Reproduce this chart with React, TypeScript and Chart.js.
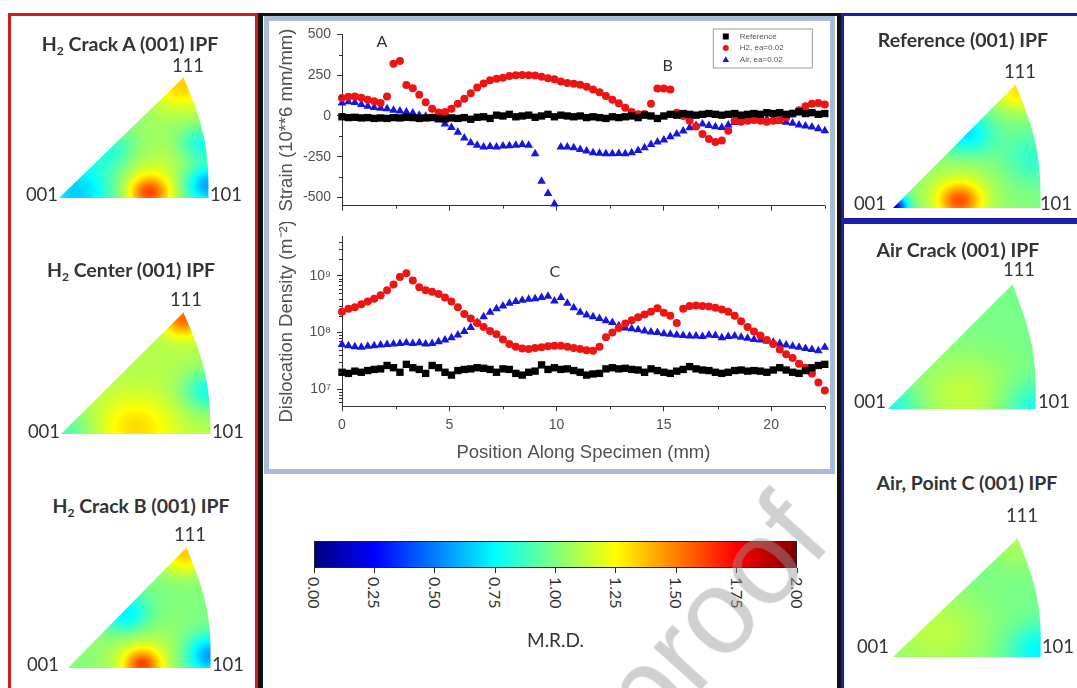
import React, { useEffect, useRef } from 'react';
import { Chart, registerables } from 'chart.js';

Chart.register(...registerables);

const AXIS_FONT = "'Liberation Sans', Arial, sans-serif";
const LABEL_FONT = "Lato, 'Open Sans', sans-serif";

// ---------- data ----------
const positionsMm = [
  0, 0.3, 0.6, 0.9, 1.2, 1.5, 1.8, 2.1, 2.4, 2.7,
  3.0, 3.3, 3.6, 3.9, 4.2, 4.5, 4.8, 5.1, 5.4, 5.7,
  6.0, 6.3, 6.6, 6.9, 7.2, 7.5, 7.8, 8.1, 8.4, 8.7,
  9.0, 9.3, 9.6, 9.9, 10.2, 10.5, 10.8, 11.1, 11.4, 11.7,
  12.0, 12.3, 12.6, 12.9, 13.2, 13.5, 13.8, 14.1, 14.4, 14.7,
  15.0, 15.3, 15.6, 15.9, 16.2, 16.5, 16.8, 17.1, 17.4, 17.7,
  18.0, 18.3, 18.6, 18.9, 19.2, 19.5, 19.8, 20.1, 20.4, 20.7,
  21.0, 21.3, 21.6, 21.9, 22.2, 22.5,
];

const referenceStrain = [
  -5, -10, -8, -12, -10, -15, -12, -15, -10, -12,
  -8, -10, -15, -12, -10, -15, -18, -12, -15, -10,
  -20, -8, -5, -15, 5, 0, 10, -5, 0, 5,
  -8, 0, 10, -5, 5, 0, -5, 0, -10, -5,
  -10, -15, -5, -10, -5, 0, -10, 5, 0, -15,
  0, 10, 5, 15, 10, 5, 10, 15, 10, 5,
  10, 15, 5, 10, 15, 10, 20, 15, 20, 10,
  15, 25, 15, 20, 10, 15,
];

const h2Strain = [
  110, 118, 120, 112, 100, 90, 80, 120, 320, 338,
  190, 170, 130, 85, 45, 22, 25, 45, 75, 105,
  140, 175, 200, 220, 228, 235, 245, 250, 252, 250,
  248, 240, 232, 225, 212, 202, 198, 192, 180, 162,
  145, 122, 100, 78, 50, 25, 10, 12, 75, 168,
  168, 162, 20, 0, -30, -65, -110, -142, -160, -150,
  -90, -30, -35, -30, -25, -30, -35, -30, -25, -10,
  15, 35, 60, 75, 80, 70,
];

const airStrain = [
  80, 88, 82, 70, 60, 52, 48, 45, 35, 30,
  25, 18, 5, -2, -12, -25, -50, -70, -100, -135,
  -165, -180, -190, -188, -190, -185, -182, -180, -175, -180,
  -232, -400, -475, -540, -190, -190, -195, -205, -215, -225,
  -228, -232, -232, -230, -232, -225, -212, -195, -175, -160,
  -148, -128, -110, -92, -72, -58, -50, -58, -66, -70,
  -55, -40, -25, -15, -10, -12, -18, -25, -32, -38,
  -45, -55, -62, -68, -78, -90,
];

// dislocation density, stored as log10 of m^-2
const referenceDensityLog10 = [
  7.3, 7.28, 7.32, 7.3, 7.33, 7.35, 7.36, 7.42, 7.38, 7.3,
  7.44, 7.38, 7.35, 7.28, 7.42, 7.38, 7.3, 7.25, 7.33, 7.35,
  7.36, 7.38, 7.37, 7.35, 7.3, 7.36, 7.35, 7.28, 7.25, 7.3,
  7.32, 7.43, 7.35, 7.38, 7.35, 7.36, 7.33, 7.3, 7.25, 7.27,
  7.28, 7.36, 7.38, 7.36, 7.37, 7.35, 7.34, 7.3, 7.36, 7.33,
  7.3, 7.28, 7.32, 7.35, 7.4, 7.36, 7.34, 7.33, 7.3, 7.28,
  7.3, 7.33, 7.34, 7.32, 7.33, 7.32, 7.3, 7.34, 7.38, 7.34,
  7.3, 7.28, 7.33, 7.38, 7.42, 7.44,
];

const h2DensityLog10 = [
  8.37, 8.42, 8.45, 8.5, 8.55, 8.6, 8.66, 8.75, 8.85, 8.98,
  9.05, 8.92, 8.8, 8.75, 8.72, 8.68, 8.62, 8.55, 8.45, 8.33,
  8.25, 8.17, 8.1, 8.03, 7.97, 7.88, 7.8, 7.75, 7.72, 7.71,
  7.73, 7.74, 7.76, 7.77, 7.77, 7.75, 7.73, 7.71, 7.69, 7.68,
  7.75, 7.92, 8.0, 8.08, 8.16, 8.22, 8.27, 8.32, 8.37, 8.43,
  8.35, 8.3, 8.17, 8.42, 8.47, 8.48, 8.47, 8.46, 8.44, 8.41,
  8.37, 8.3, 8.2, 8.1, 8.02, 7.95, 7.87, 7.8, 7.7, 7.62,
  7.55, 7.45, 7.38, 7.28, 7.12, 6.98,
];

const airDensityLog10 = [
  7.79, 7.77, 7.75, 7.74, 7.76, 7.77, 7.78, 7.79, 7.8, 7.81,
  7.82, 7.81, 7.82, 7.8, 7.81, 7.84, 7.87, 7.91, 7.96, 8.02,
  8.09, 8.18, 8.28, 8.36, 8.42, 8.47, 8.52, 8.55, 8.57, 8.59,
  8.6, 8.62, 8.64, 8.56, 8.62, 8.52, 8.44, 8.36, 8.31, 8.28,
  8.25, 8.21, 8.18, 8.12, 8.08, 8.07, 8.05, 8.03, 8.01, 8.0,
  7.98, 7.97, 7.96, 7.95, 7.94, 7.94, 7.93, 7.96, 7.95, 7.91,
  7.93, 7.94, 7.92, 7.9, 7.88, 7.87, 7.85, 7.83, 7.81, 7.78,
  7.76, 7.74, 7.72, 7.7, 7.68, 7.74,
];

const seriesLabels = ['Reference', 'H2, ea=0.02', 'Air, ea=0.02'];

const positionTicks = [0, 5, 10, 15, 20];
const positionMinorTicks = [2.5, 7.5, 12.5, 17.5, 22.5];
const strainTicks = [-500, -250, 0, 250, 500];
const strainMinorTicks = [-375, -125, 125, 375];
const densityTicks = [1e7, 1e8, 1e9];
const densityMinorTicks = [
  6e6, 7e6, 8e6, 9e6,
  2e7, 3e7, 4e7, 5e7, 6e7, 7e7, 8e7, 9e7,
  2e8, 3e8, 4e8, 5e8, 6e8, 7e8, 8e8, 9e8,
  2e9, 3e9, 4e9,
];

const strainLetters = [
  { text: 'A', x: 1.86, y: 453 },
  { text: 'B', x: 15.18, y: 308 },
];
const densityLetters = [{ text: 'C', x: 9.92, y: 1.17e9 }];

const mrdTicks = ['0.00', '0.25', '0.50', '0.75', '1.00', '1.25', '1.50', '1.75', '2.00'];

// ---------- style ----------
const COLORS = ['#000000', '#ee1414', '#1616e0'];
const STYLES = ['rect', 'circle', 'triangle'];
const RADII = [5.2, 4.0, 5.0];

const SUP: Record<string, string> = {
  '0': '⁰', '1': '¹', '2': '²', '3': '³', '4': '⁴', '5': '⁵', '6': '⁶', '7': '⁷', '8': '⁸', '9': '⁹', '-': '⁻',
};
function pow10Label(v: number) {
  const e = Math.round(Math.log10(v));
  return '10' + String(e).split('').map((c) => SUP[c] || c).join('');
}

const minorTicksPlugin = {
  id: 'minorTicks',
  afterDraw(chart: any, _args: any, opts: any) {
    const ctx = chart.ctx;
    const len = opts.length || 3;
    ctx.save();
    ctx.strokeStyle = opts.color || '#333';
    ctx.lineWidth = 1;
    ctx.beginPath();
    Object.keys(opts.values || {}).forEach((id) => {
      const scale = chart.scales[id];
      if (!scale) return;
      (opts.values[id] as number[]).forEach((v) => {
        const p = Math.round(scale.getPixelForValue(v)) + 0.5;
        if (scale.isHorizontal()) {
          ctx.moveTo(p, scale.top);
          ctx.lineTo(p, scale.top + len);
        } else {
          ctx.moveTo(scale.right, p);
          ctx.lineTo(scale.right - len, p);
        }
      });
    });
    ctx.stroke();
    ctx.restore();
  },
};

const lettersPlugin = {
  id: 'letters',
  afterDatasetsDraw(chart: any, _args: any, opts: any) {
    const ctx = chart.ctx;
    ctx.save();
    ctx.fillStyle = '#333';
    ctx.font = `16px ${LABEL_FONT}`;
    ctx.textAlign = 'center';
    ctx.textBaseline = 'middle';
    (opts.items || []).forEach((it: any) => {
      ctx.fillText(it.text, chart.scales.x.getPixelForValue(it.x), chart.scales.y.getPixelForValue(it.y));
    });
    ctx.restore();
  },
};

function drawMarker(ctx: CanvasRenderingContext2D, style: string, x: number, y: number, r: number, color: string) {
  ctx.fillStyle = color;
  ctx.beginPath();
  if (style === 'rect') {
    ctx.rect(x - r, y - r, 2 * r, 2 * r);
  } else if (style === 'circle') {
    ctx.arc(x, y, r, 0, Math.PI * 2);
  } else {
    ctx.moveTo(x, y - r * 1.1);
    ctx.lineTo(x + r * 1.1, y + r * 0.8);
    ctx.lineTo(x - r * 1.1, y + r * 0.8);
    ctx.closePath();
  }
  ctx.fill();
}

const boxLegendPlugin = {
  id: 'boxLegend',
  afterDraw(chart: any, _args: any, opts: any) {
    if (!opts.show) return;
    const ctx = chart.ctx;
    const { right, top } = chart.chartArea;
    const w = 99;
    const h = 39;
    const bx = right - 13 - w;
    const by = top - 6;
    ctx.save();
    ctx.fillStyle = '#fff';
    ctx.fillRect(bx, by, w, h);
    ctx.strokeStyle = '#9a9a9a';
    ctx.lineWidth = 1;
    ctx.strokeRect(bx + 0.5, by + 0.5, w, h);
    ctx.font = `8px ${AXIS_FONT}`;
    ctx.textBaseline = 'middle';
    chart.data.datasets.forEach((ds: any, i: number) => {
      const yy = by + 8 + i * 11.5;
      drawMarker(ctx, STYLES[i], bx + 13, yy, 3, COLORS[i]);
      ctx.fillStyle = '#555';
      ctx.fillText(ds.label, bx + 27, yy);
    });
    ctx.restore();
  },
};

function makeDatasets(values: number[][]) {
  return values.map((vals, i) => ({
    label: seriesLabels[i],
    data: positionsMm.map((x, j) => ({ x, y: vals[j] })),
    pointStyle: STYLES[i],
    pointRadius: RADII[i],
    backgroundColor: COLORS[i],
    borderColor: COLORS[i],
    borderWidth: 0,
    showLine: false,
    clip: false as any,
  }));
}

const tickFont = { family: AXIS_FONT, size: 14 };
const titleFont = { family: AXIS_FONT, size: 18.5 };
const AXIS_TEXT = '#505050';

function StrainChart() {
  const ref = useRef<HTMLCanvasElement>(null);
  useEffect(() => {
    const chart = new Chart(ref.current as HTMLCanvasElement, {
      type: 'scatter',
      data: { datasets: makeDatasets([referenceStrain, h2Strain, airStrain]) as any },
      options: {
        animation: false,
        responsive: false,
        devicePixelRatio: 1,
        layout: { padding: { top: 14.5, right: 5, left: 0, bottom: 0 } },
        plugins: {
          legend: { display: false },
          tooltip: { enabled: false },
          boxLegend: { show: true },
          letters: { items: strainLetters },
          minorTicks: { values: { x: positionMinorTicks, y: strainMinorTicks }, length: 3 },
        } as any,
        scales: {
          x: {
            type: 'linear',
            min: 0,
            max: 22.5,
            afterBuildTicks: (s: any) => { s.ticks = positionTicks.map((v) => ({ value: v })); },
            afterFit: (s: any) => { s.height = 12.5; },
            ticks: { display: false },
            grid: { drawOnChartArea: false, tickLength: 5, color: '#333' },
            border: { color: '#333' },
          },
          y: {
            type: 'linear',
            min: -550,
            max: 500,
            afterBuildTicks: (s: any) => { s.ticks = strainTicks.map((v) => ({ value: v })); },
            afterFit: (s: any) => { s.width = 72; },
            ticks: { color: AXIS_TEXT, font: tickFont, padding: 6, callback: (v: any) => String(v) },
            grid: { drawOnChartArea: false, tickLength: 5, color: '#333' },
            border: { color: '#333' },
            title: { display: true, text: 'Strain (10**6 mm/mm)', color: AXIS_TEXT, font: titleFont, padding: { top: 6, bottom: 0 } },
          },
        },
      },
      plugins: [minorTicksPlugin, lettersPlugin, boxLegendPlugin],
    });
    return () => chart.destroy();
  }, []);
  return <canvas ref={ref} width={560} height={200} style={{ position: 'absolute', left: 270, top: 20 }} />;
}

function DensityChart() {
  const ref = useRef<HTMLCanvasElement>(null);
  useEffect(() => {
    const toValues = (arr: number[]) => arr.map((e) => Math.pow(10, e));
    const chart = new Chart(ref.current as HTMLCanvasElement, {
      type: 'scatter',
      data: {
        datasets: makeDatasets([
          toValues(referenceDensityLog10),
          toValues(h2DensityLog10),
          toValues(airDensityLog10),
        ]) as any,
      },
      options: {
        animation: false,
        responsive: false,
        devicePixelRatio: 1,
        layout: { padding: { top: 11.8, right: 5, left: 0, bottom: 0 } },
        plugins: {
          legend: { display: false },
          tooltip: { enabled: false },
          boxLegend: { show: false },
          letters: { items: densityLetters },
          minorTicks: { values: { x: positionMinorTicks, y: densityMinorTicks }, length: 3 },
        } as any,
        scales: {
          x: {
            type: 'linear',
            min: 0,
            max: 22.5,
            afterBuildTicks: (s: any) => { s.ticks = positionTicks.map((v) => ({ value: v })); },
            afterFit: (s: any) => { s.height = 61.7; },
            ticks: { color: AXIS_TEXT, font: tickFont, padding: 5, maxRotation: 0, callback: (v: any) => String(v) },
            grid: { drawOnChartArea: false, tickLength: 5, color: '#333' },
            border: { color: '#333' },
            title: { display: true, text: 'Position Along Specimen (mm)', color: AXIS_TEXT, font: titleFont, padding: { top: 0, bottom: 4 } },
          },
          y: {
            type: 'logarithmic',
            min: 5e6,
            max: 5e9,
            afterBuildTicks: (s: any) => { s.ticks = densityTicks.map((v) => ({ value: v })); },
            afterFit: (s: any) => { s.width = 72; },
            ticks: { color: AXIS_TEXT, font: tickFont, padding: 6, callback: (v: any) => pow10Label(Number(v)) },
            grid: { drawOnChartArea: false, tickLength: 5, color: '#333' },
            border: { color: '#333' },
            title: { display: true, text: 'Dislocation Density (m⁻²)', color: AXIS_TEXT, font: titleFont, padding: { top: 6, bottom: 0 } },
          },
        },
      },
      plugins: [minorTicksPlugin, lettersPlugin, boxLegendPlugin],
    });
    return () => chart.destroy();
  }, []);
  return <canvas ref={ref} width={560} height={246} style={{ position: 'absolute', left: 270, top: 222 }} />;
}

// ---------- IPF triangles (decorative images) ----------
type Spot = { u: number; v: number; s: number; a: number };
function jet(t: number) {
  const c = (x: number) => Math.max(0, Math.min(1, x));
  return [c(1.5 - Math.abs(4 * t - 3)), c(1.5 - Math.abs(4 * t - 2)), c(1.5 - Math.abs(4 * t - 1))];
}

function Ipf(props: { x0: number; x1: number; yb: number; ax: number; ay: number; bulge: number; base: number; spots: Spot[] }) {
  const { x0, x1, yb, ax, ay, bulge, base, spots } = props;
  const ref = useRef<HTMLCanvasElement>(null);
  const W = Math.ceil(x1 - x0 + bulge + 2);
  const H = yb - ay + 1;
  useEffect(() => {
    const ctx = (ref.current as HTMLCanvasElement).getContext('2d') as CanvasRenderingContext2D;
    const img = ctx.createImageData(W, H);
    const wB = x1 - x0;
    const cx = ax - x0;
    for (let y = 0; y < H; y++) {
      const t = y / (H - 1);
      const xl = cx * (1 - t);
      const xr = cx + (wB - cx) * t + bulge * Math.sin(Math.PI * t);
      for (let x = 0; x < W; x++) {
        const cov = Math.max(0, Math.min(1, Math.min(x - xl + 0.5, xr - x + 0.5)));
        if (cov <= 0) continue;
        const u = x / wB;
        const v = 1 - t;
        let val = base;
        for (const s of spots) {
          const d2 = (u - s.u) * (u - s.u) + (v - s.v) * (v - s.v);
          val += s.a * Math.exp(-d2 / (2 * s.s * s.s));
        }
        const [r, g, b] = jet(Math.max(0, Math.min(1, val / 2)));
        const k = (y * W + x) * 4;
        img.data[k] = r * 255;
        img.data[k + 1] = g * 255;
        img.data[k + 2] = b * 255;
        img.data[k + 3] = cov * 255;
      }
    }
    ctx.putImageData(img, 0, 0);
  }, []);
  return <canvas ref={ref} width={W} height={H} style={{ position: 'absolute', left: x0, top: ay }} />;
}

const ipfPanels = [
  {
    x0: 59, x1: 208, yb: 197, ax: 183, ay: 77, bulge: 8, base: 1.05,
    spots: [
      { u: 0.6, v: 0.04, s: 0.09, a: 0.45 },
      { u: 0.6, v: 0.1, s: 0.2, a: 0.15 },
      { u: 0.82, v: 0.95, s: 0.15, a: 0.3 },
      { u: 0.12, v: 0.05, s: 0.2, a: -0.4 },
      { u: 1.0, v: 0.1, s: 0.12, a: -0.5 },
      { u: 0.35, v: 0.4, s: 0.12, a: -0.2 },
      { u: 0.95, v: 0.45, s: 0.1, a: -0.25 },
    ],
  },
  {
    x0: 61, x1: 210, yb: 433, ax: 183, ay: 312, bulge: 8, base: 1.1,
    spots: [
      { u: 0.82, v: 0.95, s: 0.1, a: 0.45 },
      { u: 0.5, v: 0.05, s: 0.18, a: 0.22 },
      { u: 0.0, v: 0.0, s: 0.15, a: -0.2 },
      { u: 0.98, v: 0.35, s: 0.12, a: -0.3 },
    ],
  },
  {
    x0: 68, x1: 210, yb: 667, ax: 186, ay: 547, bulge: 8, base: 1.0,
    spots: [
      { u: 0.52, v: 0.02, s: 0.09, a: 0.48 },
      { u: 0.52, v: 0.08, s: 0.2, a: 0.15 },
      { u: 0.82, v: 0.95, s: 0.12, a: 0.35 },
      { u: 0.4, v: 0.45, s: 0.12, a: -0.3 },
      { u: 1.0, v: 0.1, s: 0.12, a: -0.45 },
    ],
  },
  {
    x0: 893, x1: 1040, yb: 207, ax: 1015, ay: 84, bulge: 8, base: 1.0,
    spots: [
      { u: 0.0, v: 0.0, s: 0.07, a: -0.8 },
      { u: 0.45, v: 0.05, s: 0.1, a: 0.45 },
      { u: 0.45, v: 0.1, s: 0.2, a: 0.15 },
      { u: 0.85, v: 0.95, s: 0.12, a: 0.3 },
      { u: 0.5, v: 0.6, s: 0.12, a: -0.3 },
      { u: 0.95, v: 0.4, s: 0.15, a: -0.15 },
    ],
  },
  {
    x0: 888, x1: 1035, yb: 408, ax: 1012, ay: 284, bulge: 8, base: 0.98,
    spots: [
      { u: 0.5, v: 0.1, s: 0.25, a: 0.15 },
      { u: 0.0, v: 0.0, s: 0.15, a: -0.2 },
      { u: 1.0, v: 0.0, s: 0.15, a: -0.2 },
    ],
  },
  {
    x0: 893, x1: 1040, yb: 656, ax: 1017, ay: 538, bulge: 8, base: 0.98,
    spots: [
      { u: 0.3, v: 0.2, s: 0.25, a: 0.14 },
      { u: 0.85, v: 0.95, s: 0.15, a: 0.1 },
      { u: 1.0, v: 0.05, s: 0.15, a: -0.25 },
    ],
  },
];

const ipfTitles = [
  { pre: 'H', sub: '2', rest: ' Crack A (001) IPF', cx: 130, cy: 44 },
  { pre: 'H', sub: '2', rest: ' Center (001) IPF', cx: 131, cy: 270 },
  { pre: 'H', sub: '2', rest: ' Crack B (001) IPF', cx: 141, cy: 506 },
  { pre: 'Reference (001) IPF', sub: '', rest: '', cx: 963, cy: 40 },
  { pre: 'Air Crack (001) IPF', sub: '', rest: '', cx: 958, cy: 250 },
  { pre: 'Air, Point C (001) IPF', sub: '', rest: '', cx: 967, cy: 483 },
];

const cornerLabels = [
  { t: '111', x: 188, y: 66 }, { t: '001', x: 42, y: 195 }, { t: '101', x: 226, y: 195 },
  { t: '111', x: 186, y: 300 }, { t: '001', x: 44, y: 432 }, { t: '101', x: 228, y: 432 },
  { t: '111', x: 190, y: 535 }, { t: '001', x: 43, y: 665 }, { t: '101', x: 228, y: 665 },
  { t: '111', x: 1020, y: 72 }, { t: '001', x: 870, y: 204 }, { t: '101', x: 1056, y: 204 },
  { t: '111', x: 1019, y: 270 }, { t: '001', x: 870, y: 402 }, { t: '101', x: 1054, y: 402 },
  { t: '111', x: 1022, y: 516 }, { t: '001', x: 873, y: 647 }, { t: '101', x: 1058, y: 647 },
];

const abs = (s: React.CSSProperties): React.CSSProperties => ({ position: 'absolute', boxSizing: 'border-box', ...s });

export default function App() {
  const barLeft = 314;
  const barWidth = 483;
  return (
    <div style={{ position: 'absolute', left: 0, top: 0, width: 1077, height: 688, overflow: 'hidden', background: '#fff' }}>
      {/* frames */}
      <div style={abs({ left: 8, top: 13, width: 250, height: 700, border: '3px solid #d21c1c' })} />
      <div style={abs({ left: 258, top: 13, width: 584, height: 700, borderTop: '3px solid #111', borderLeft: '5px solid #111', borderRight: '5px solid #111' })} />
      <div style={abs({ left: 264, top: 16, width: 571, height: 458, border: '5px solid #a8bbd7', background: '#fff' })} />
      <div style={abs({ left: 841, top: 13, width: 260, height: 208, border: '3px solid #1c1cae' })} />
      <div style={abs({ left: 841, top: 221, width: 260, height: 500, border: '3px solid #1c1cae' })} />

      <StrainChart />
      <DensityChart />

      {ipfPanels.map((p, i) => (
        <Ipf key={i} {...p} />
      ))}

      {ipfTitles.map((t, i) => (
        <div key={i} style={abs({ left: t.cx - 150, top: t.cy - 12, width: 300, height: 24, lineHeight: '24px', textAlign: 'center', font: `bold 19.5px ${LABEL_FONT}`, color: '#333', whiteSpace: 'nowrap' })}>
          {t.pre}
          {t.sub ? <span style={{ fontSize: '0.62em', position: 'relative', top: '0.35em' }}>{t.sub}</span> : null}
          {t.rest}
        </div>
      ))}

      {cornerLabels.map((c, i) => (
        <div key={i} style={abs({ left: c.x - 30, top: c.y - 12, width: 60, height: 24, lineHeight: '24px', textAlign: 'center', font: `18.5px ${LABEL_FONT}`, color: '#333' })}>
          {c.t}
        </div>
      ))}

      {/* colour bar */}
      <div style={abs({
        left: barLeft, top: 541, width: barWidth, height: 27, border: '1px solid #222',
        background: 'linear-gradient(to right, #00007f 0%, #0000ff 12.5%, #00ffff 37.5%, #ffff00 62.5%, #ff0000 87.5%, #7f0000 100%)',
      })} />
      {mrdTicks.map((t, i) => {
        const x = barLeft + (i / (mrdTicks.length - 1)) * barWidth;
        return (
          <React.Fragment key={t}>
            <div style={abs({ left: x - 0.5, top: 568, width: 1, height: 5, background: '#222' })} />
            <div style={abs({ left: x + 8, top: 577, transform: 'rotate(90deg)', transformOrigin: '0 0', font: `16px ${LABEL_FONT}`, lineHeight: '16px', color: '#333', whiteSpace: 'nowrap' })}>
              {t}
            </div>
          </React.Fragment>
        );
      })}
      <div style={abs({ left: barLeft + barWidth / 2 - 60, top: 628, width: 120, height: 24, lineHeight: '24px', textAlign: 'center', font: `19px ${LABEL_FONT}`, color: '#333' })}>
        M.R.D.
      </div>

      {/* watermark */}
      <div style={abs({ left: 664, top: 638, font: `120px ${AXIS_FONT}`, lineHeight: '120px', color: 'rgba(150,150,150,0.45)', transform: 'rotate(-48deg)', transformOrigin: '0 100%', whiteSpace: 'nowrap', pointerEvents: 'none' })}>
        proof
      </div>
    </div>
  );
}
